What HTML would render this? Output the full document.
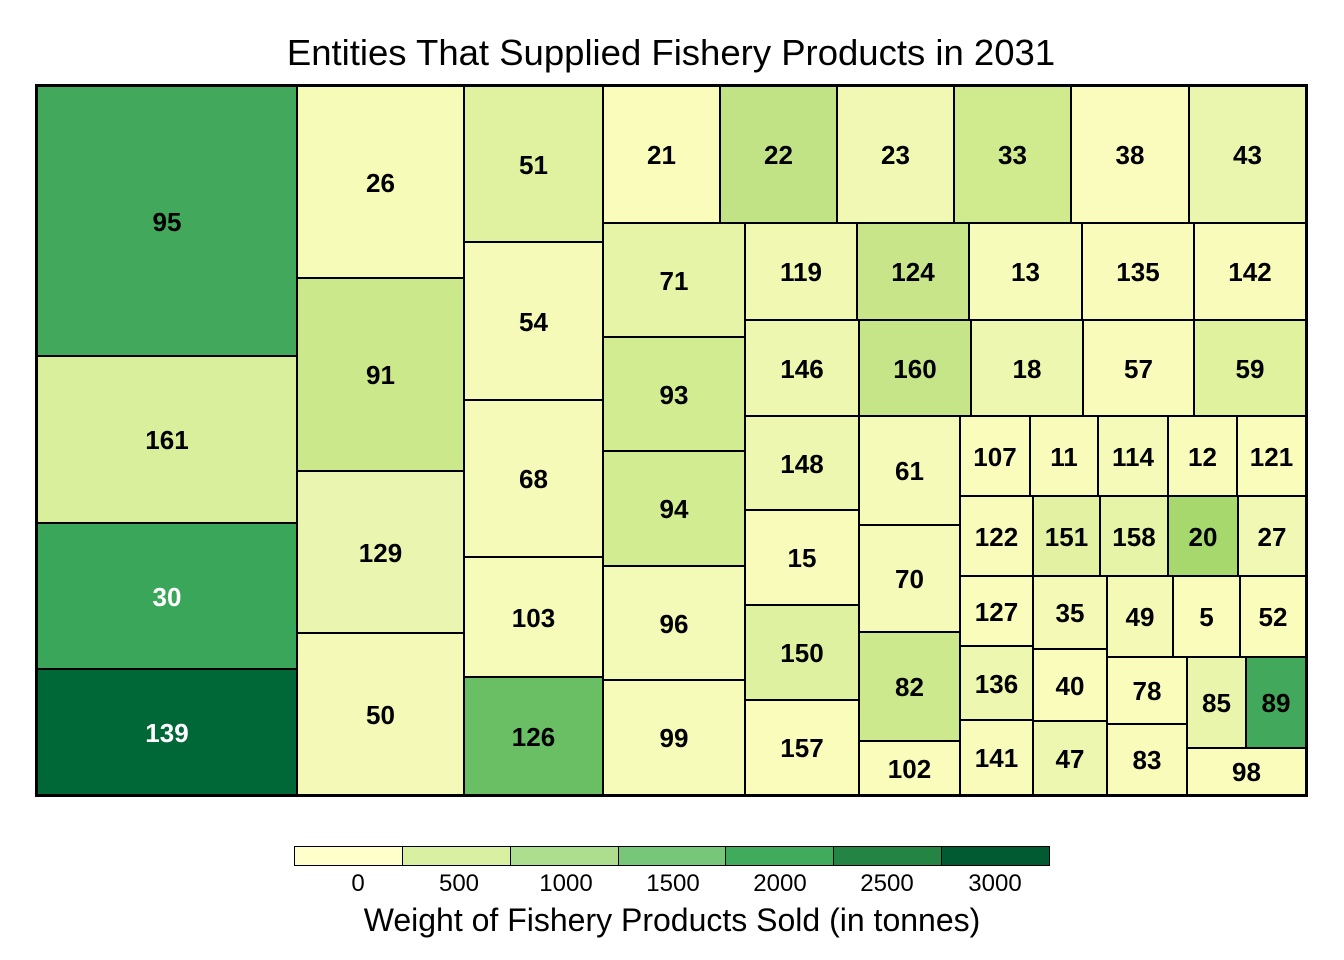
<!DOCTYPE html>
<html><head><meta charset="utf-8"><style>
body{margin:0;width:1344px;height:960px;background:#fff;position:relative;font-family:"Liberation Sans",sans-serif;overflow:hidden}
.c{position:absolute;box-sizing:border-box;border:1.5px solid #000;display:flex;align-items:center;justify-content:center;font-weight:bold;font-size:26px;color:#000;padding-top:2px}
.t{position:absolute;text-align:center;transform:translateX(-50%);white-space:nowrap}
</style></head><body>
<div class="t" style="left:671px;top:32px;font-size:36.5px">Entities That Supplied Fishery Products in 2031</div>
<div style="position:absolute;left:35px;top:84px;width:1273px;height:713px;box-sizing:border-box;border:3px solid #000"></div>
<div id="m"></div>
<div style="position:absolute;left:294px;top:846px;width:756px;height:20px;display:flex;border:1px solid #000;box-sizing:border-box">
<div style="flex:1;background:#ffffcc;border-right:1px solid #000"></div><div style="flex:1;background:#d9f0a3;border-right:1px solid #000"></div><div style="flex:1;background:#addd8e;border-right:1px solid #000"></div><div style="flex:1;background:#78c679;border-right:1px solid #000"></div><div style="flex:1;background:#41ab5d;border-right:1px solid #000"></div><div style="flex:1;background:#238443;border-right:1px solid #000"></div><div style="flex:1;background:#005a32"></div></div>
<div class="t" style="left:358px;top:870px;font-size:24px">0</div>
<div class="t" style="left:459px;top:870px;font-size:24px">500</div>
<div class="t" style="left:566px;top:870px;font-size:24px">1000</div>
<div class="t" style="left:673px;top:870px;font-size:24px">1500</div>
<div class="t" style="left:780px;top:870px;font-size:24px">2000</div>
<div class="t" style="left:887px;top:870px;font-size:24px">2500</div>
<div class="t" style="left:995px;top:870px;font-size:24px">3000</div>
<div class="t" style="left:672px;top:902px;font-size:32px">Weight of Fishery Products Sold (in tonnes)</div>
<script>
var d=[
[95,37,86,297,356,'#41a85c'],[161,37,356,297,523,'#d9ef9b'],[30,37,523,297,669,'#3aa65a',1],[139,37,669,297,795,'#006837',1],
[26,297,86,464,278,'#f7fbb8'],[91,297,278,464,471,'#cbe98a'],[129,297,471,464,633,'#eaf5b0'],[50,297,633,464,795,'#f4f9b8'],
[51,464,86,603,242,'#e0f29f'],[54,464,242,603,400,'#f6fab8'],[68,464,400,603,557,'#f6fab8'],[103,464,557,603,677,'#f7fbb9'],[126,464,677,603,795,'#6abf65'],
[21,603,86,720,223,'#fafcbc'],[22,720,86,837,223,'#c2e385'],[23,837,86,954,223,'#f0f8b3'],[33,954,86,1071,223,'#d0eb8d'],[38,1071,86,1189,223,'#fafcbd'],[43,1189,86,1306,223,'#eaf6ae'],
[71,603,223,745,337,'#e6f4a8'],[93,603,337,745,451,'#d2ec92'],[94,603,451,745,566,'#d2ec92'],[96,603,566,745,680,'#f3f9b6'],[99,603,680,745,795,'#f7fbb9'],
[119,745,223,857,320,'#f0f8b2'],[124,857,223,969,320,'#c8e689'],[13,969,223,1082,320,'#f7fbb9'],[135,1082,223,1194,320,'#f8fbba'],[142,1194,223,1306,320,'#f8fbba'],
[146,745,320,859,416,'#eef7b0'],[160,859,320,971,416,'#c6e588'],[18,971,320,1083,416,'#eef7b0'],[57,1083,320,1194,416,'#f8fbba'],[59,1194,320,1306,416,'#e1f29f'],
[148,745,416,859,510,'#eef7b0'],[15,745,510,859,605,'#f8fbba'],[150,745,605,859,700,'#def1a0'],[157,745,700,859,795,'#fafcbc'],
[61,859,416,960,525,'#f6fab8'],[70,859,525,960,632,'#f6fab8'],[82,859,632,960,741,'#cde98d'],[102,859,741,960,795,'#fafcbc'],
[107,960,416,1030,496,'#fafcbc'],[11,1030,416,1098,496,'#f8fbba'],[114,1098,416,1168,496,'#f6fab8'],[12,1168,416,1237,496,'#f8fbba'],[121,1237,416,1306,496,'#fafcbc'],
[122,960,496,1033,576,'#f8fbba'],[151,1033,496,1100,576,'#e2f2a2'],[158,1100,496,1168,576,'#e6f4a8'],[20,1168,496,1238,576,'#a6d86e'],[27,1238,496,1306,576,'#f0f8b3'],
[127,960,576,1033,646,'#fafcbc'],[136,960,646,1033,720,'#eef7b0'],[141,960,720,1033,795,'#f8fbba'],
[35,1033,576,1107,649,'#f4f9b6'],[40,1033,649,1107,721,'#fafcbc'],[47,1033,721,1107,795,'#eef7b0'],
[49,1107,576,1173,657,'#f4f9b6'],[5,1173,576,1240,657,'#fafcbc'],[52,1240,576,1306,657,'#fafcbc'],
[78,1107,657,1187,724,'#fafcbc'],[83,1107,724,1187,795,'#f8fbba'],
[85,1187,657,1246,748,'#e8f5ab'],[89,1246,657,1306,748,'#41a85c'],[98,1187,748,1306,795,'#fafcbc']];
var h='';d.forEach(function(r){h+='<div class="c" style="left:'+r[1]+'px;top:'+r[2]+'px;width:'+(r[3]-r[1])+'px;height:'+(r[4]-r[2])+'px;background:'+r[5]+(r[6]?';color:#fff':'')+'">'+r[0]+'</div>';});
document.getElementById('m').innerHTML=h;
</script>
</body></html>
